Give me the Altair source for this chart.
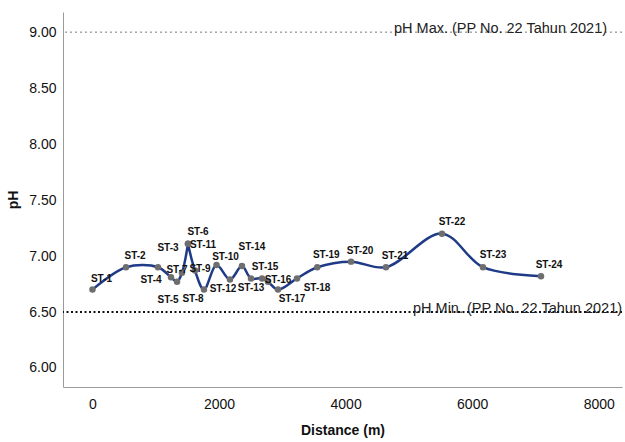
import altair as alt
import pandas as pd

# ---- data ----
stations = ["ST-1", "ST-2", "ST-3", "ST-4", "ST-5", "ST-6", "ST-7", "ST-8",
            "ST-9", "ST-10", "ST-11", "ST-12", "ST-13", "ST-14", "ST-15", "ST-16",
            "ST-17", "ST-18", "ST-19", "ST-20", "ST-21", "ST-22", "ST-23", "ST-24"]
distance = [0, 530, 1035, 1241, 1336, 1509, 1414, 1762,
            1620, 1960, 1509, 2173, 2505, 2362, 2679, 2774,
            2932, 3232, 3552, 4085, 4638, 5523, 6171, 7088]
ph = [6.70, 6.90, 6.90, 6.81, 6.77, 7.11, 6.85, 6.70,
      6.87, 6.92, 7.11, 6.79, 6.80, 6.91, 6.80, 6.77,
      6.70, 6.80, 6.90, 6.95, 6.90, 7.20, 6.90, 6.82]

x_ticks = [0, 2000, 4000, 6000, 8000]
y_ticks = [6.0, 6.5, 7.0, 7.5, 8.0, 8.5, 9.0]

ref_values = [9.0, 6.5]
ref_labels = ["pH Max.  (PP No. 22 Tahun 2021)", "pH Min. (PP No. 22 Tahun 2021)"]
ref_label_x = [4765, 5065]

# ---- label nudges (styling, pixels) ----
LABEL_NUDGE = {
    "ST-1": (9, -11), "ST-2": (9, -11), "ST-3": (10, -19), "ST-4": (-20, 3),
    "ST-5": (-9, 18), "ST-6": (10, -12), "ST-7": (-5, -3), "ST-8": (-11, 9),
    "ST-9": (5, -2), "ST-10": (9, -8), "ST-11": (15, 1), "ST-12": (-7, 9),
    "ST-13": (0, 10), "ST-14": (10, -19), "ST-15": (3, -11), "ST-16": (10, -2),
    "ST-17": (14, 9), "ST-18": (20, 10), "ST-19": (9, -12), "ST-20": (9, -11),
    "ST-21": (9, -11), "ST-22": (10, -12), "ST-23": (10, -12), "ST-24": (8, -11),
}

df = pd.DataFrame({"station": stations, "distance": distance, "ph": ph})
ref_df = pd.DataFrame({"value": ref_values, "label": ref_labels, "lx": ref_label_x})

FONT = "Liberation Sans"

xscale = alt.Scale(domain=[-466, 8368], nice=False, zero=False)
yscale = alt.Scale(domain=[5.83, 9.18], nice=False, zero=False)

x_enc = alt.X("distance:Q", scale=xscale,
              axis=alt.Axis(values=x_ticks, format="d", title="Distance (m)",
                            grid=False, ticks=False, labelPadding=10, titlePadding=12))
y_enc = alt.Y("ph:Q", scale=yscale,
              axis=alt.Axis(values=y_ticks, format=".2f", title="pH",
                            grid=False, ticks=False, labelPadding=7, titlePadding=8))

line = alt.Chart(df).mark_line(
    interpolate="catmull-rom", color="#1f3b87", strokeWidth=2.5
).encode(x=x_enc, y=y_enc, order="distance:Q")

points = alt.Chart(df).mark_circle(size=42, color="#6e6e6e", opacity=1).encode(
    x=alt.X("distance:Q", scale=xscale), y=alt.Y("ph:Q", scale=yscale))

label_layers = []
for st in stations:
    dx, dy = LABEL_NUDGE[st]
    label_layers.append(
        alt.Chart(df).transform_filter(alt.datum.station == st).mark_text(
            font=FONT, fontSize=10, fontWeight="bold", color="#111111",
            align="center", baseline="middle", dx=dx, dy=dy
        ).encode(x=alt.X("distance:Q", scale=xscale),
                 y=alt.Y("ph:Q", scale=yscale), text="station:N")
    )

max_rule = alt.Chart(ref_df).transform_filter(alt.datum.value > 8).mark_rule(
    color="#7a7a7a", strokeWidth=1, strokeDash=[2, 3]
).encode(y=alt.Y("value:Q", scale=yscale))

min_rule = alt.Chart(ref_df).transform_filter(alt.datum.value < 8).mark_rule(
    color="#111111", strokeWidth=2.2, strokeDash=[2, 2.5]
).encode(y=alt.Y("value:Q", scale=yscale))

ref_text = alt.Chart(ref_df).mark_text(
    font=FONT, fontSize=14.5, color="#222222", align="left", baseline="alphabetic", dy=1
).encode(x=alt.X("lx:Q", scale=xscale), y=alt.Y("value:Q", scale=yscale), text="label:N")

chart = alt.layer(max_rule, min_rule, ref_text, line, points, *label_layers).properties(
    width=559, height=375,
    background="white",
    autosize=alt.AutoSizeParams(type="none"),
    padding={"left": 63, "top": 12, "right": 3, "bottom": 55},
).configure_view(stroke=None).configure_axis(
    grid=False, ticks=False, domainColor="#9a9a9a", domainWidth=1,
    labelFont=FONT, labelFontSize=14, labelColor="#111111",
    titleFont=FONT, titleFontSize=14, titleFontWeight="bold", titleColor="#111111",
)

chart.save("out.html", embed_options={"renderer": "svg", "actions": False})
